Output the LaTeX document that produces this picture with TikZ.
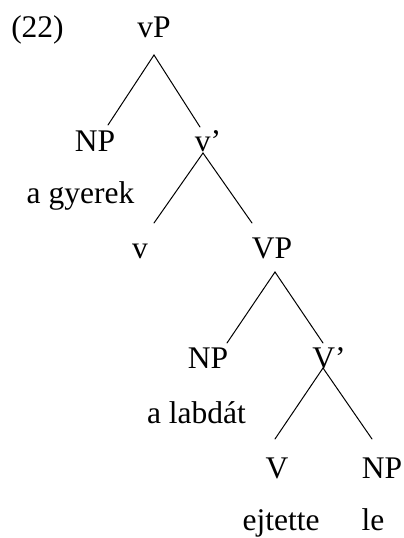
\documentclass[tikz,border=0pt]{standalone}
\usepackage{fontspec}
\setmainfont{Liberation Serif}
\begin{document}
\begin{tikzpicture}[x=1pt,y=-1pt,
  lab/.style={anchor=base,inner sep=0pt,font=\fontsize{31.5}{38}\selectfont},
  branch/.style={line width=1pt,line cap=round}]
\useasboundingbox (0,0) rectangle (404,538);
% labels
\node[lab] (ex) at (37.5,37) {(22)};
\node[lab] (vP) at (154,37) {vP};
\node[lab] (np1) at (95,151) {NP};
\node[lab] (vbar) at (208,151) {v’};
\node[lab] (gyerek) at (80.5,203) {a gyerek};
\node[lab] (v) at (140,258) {v};
\node[lab] (VP) at (272,258) {VP};
\node[lab] (np2) at (208,368) {NP};
\node[lab] (Vbar) at (329,368) {V’};
\node[lab] (labdat) at (196.5,423) {a labdát};
\node[lab] (V) at (277,478) {V};
\node[lab] (np3) at (382,478) {NP};
\node[lab] (ejtette) at (281,530) {ejtette};
\node[lab] (le) at (373,530) {le};
% branch points
\coordinate (vP-b) at (154,55);
\coordinate (np1-t) at (108,125);
\coordinate (vbar-t) at (200,127);
\coordinate (vbar-b) at (203,153);
\coordinate (v-t) at (154,223);
\coordinate (VP-t) at (252,223);
\coordinate (VP-b) at (275,272);
\coordinate (np2-t) at (227,343);
\coordinate (Vbar-t) at (323,343);
\coordinate (Vbar-b) at (323,368);
\coordinate (V-t) at (275,439);
\coordinate (np3-t) at (372,439);
% connectors
\draw[branch] (np1-t) -- (vP-b) -- (vbar-t);
\draw[branch] (v-t) -- (vbar-b) -- (VP-t);
\draw[branch] (np2-t) -- (VP-b) -- (Vbar-t);
\draw[branch] (V-t) -- (Vbar-b) -- (np3-t);
\end{tikzpicture}
\end{document}
